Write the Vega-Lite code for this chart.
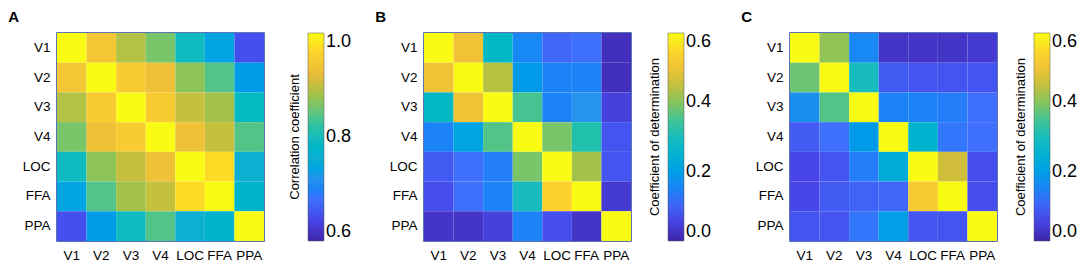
{
"$schema": "https://vega.github.io/schema/vega-lite/v6.json",
"padding": {"left": 7, "top": 9, "right": 0, "bottom": 0},
"config": {
  "font": "Liberation Sans",
  "view": {"stroke": "#2b479e", "strokeWidth": 1.5},
  "axis": {"domain": false, "ticks": false, "labelFontSize": 13.5, "labelColor": "#000000", "labelPadding": 7, "labelAngle": 0, "title": null},
  "legend": {"gradientLength": 208, "gradientThickness": 16, "labelFontSize": 18, "labelColor": "#000000", "labelOffset": 5, "titleFontSize": 13, "titleFontWeight": "normal", "titleColor": "#000000", "titleOrient": "left", "titleAngle": 270, "titleAnchor": "middle", "titlePadding": 5, "offset": 18, "gradientStrokeWidth": 0.5, "gradientStrokeColor": "#555555"},
  "title": {"anchor": "start", "frame": "bounds", "fontSize": 15, "fontWeight": "bold", "color": "#000000", "offset": 8, "dx": -14}
},
"datasets": {
"A": [
{"r":"V1","c":"V1","v":1.00},{"r":"V1","c":"V2","v":0.94},{"r":"V1","c":"V3","v":0.89},{"r":"V1","c":"V4","v":0.86},{"r":"V1","c":"LOC","v":0.795},{"r":"V1","c":"FFA","v":0.74},{"r":"V1","c":"PPA","v":0.65},
{"r":"V2","c":"V1","v":0.94},{"r":"V2","c":"V2","v":1.00},{"r":"V2","c":"V3","v":0.95},{"r":"V2","c":"V4","v":0.93},{"r":"V2","c":"LOC","v":0.87},{"r":"V2","c":"FFA","v":0.84},{"r":"V2","c":"PPA","v":0.73},
{"r":"V3","c":"V1","v":0.89},{"r":"V3","c":"V2","v":0.95},{"r":"V3","c":"V3","v":1.00},{"r":"V3","c":"V4","v":0.95},{"r":"V3","c":"LOC","v":0.90},{"r":"V3","c":"FFA","v":0.88},{"r":"V3","c":"PPA","v":0.79},
{"r":"V4","c":"V1","v":0.86},{"r":"V4","c":"V2","v":0.93},{"r":"V4","c":"V3","v":0.95},{"r":"V4","c":"V4","v":1.00},{"r":"V4","c":"LOC","v":0.93},{"r":"V4","c":"FFA","v":0.90},{"r":"V4","c":"PPA","v":0.84},
{"r":"LOC","c":"V1","v":0.795},{"r":"LOC","c":"V2","v":0.87},{"r":"LOC","c":"V3","v":0.90},{"r":"LOC","c":"V4","v":0.93},{"r":"LOC","c":"LOC","v":1.00},{"r":"LOC","c":"FFA","v":0.97},{"r":"LOC","c":"PPA","v":0.76},
{"r":"FFA","c":"V1","v":0.74},{"r":"FFA","c":"V2","v":0.84},{"r":"FFA","c":"V3","v":0.88},{"r":"FFA","c":"V4","v":0.90},{"r":"FFA","c":"LOC","v":0.97},{"r":"FFA","c":"FFA","v":1.00},{"r":"FFA","c":"PPA","v":0.77},
{"r":"PPA","c":"V1","v":0.65},{"r":"PPA","c":"V2","v":0.73},{"r":"PPA","c":"V3","v":0.795},{"r":"PPA","c":"V4","v":0.84},{"r":"PPA","c":"LOC","v":0.76},{"r":"PPA","c":"FFA","v":0.77},{"r":"PPA","c":"PPA","v":1.00}
],
"B": [
{"r":"V1","c":"V1","v":0.60},{"r":"V1","c":"V2","v":0.50},{"r":"V1","c":"V3","v":0.28},{"r":"V1","c":"V4","v":0.16},{"r":"V1","c":"LOC","v":0.11},{"r":"V1","c":"FFA","v":0.12},{"r":"V1","c":"PPA","v":0.02},
{"r":"V2","c":"V1","v":0.50},{"r":"V2","c":"V2","v":0.60},{"r":"V2","c":"V3","v":0.44},{"r":"V2","c":"V4","v":0.19},{"r":"V2","c":"LOC","v":0.15},{"r":"V2","c":"FFA","v":0.15},{"r":"V2","c":"PPA","v":0.02},
{"r":"V3","c":"V1","v":0.28},{"r":"V3","c":"V2","v":0.50},{"r":"V3","c":"V3","v":0.60},{"r":"V3","c":"V4","v":0.35},{"r":"V3","c":"LOC","v":0.15},{"r":"V3","c":"FFA","v":0.18},{"r":"V3","c":"PPA","v":0.05},
{"r":"V4","c":"V1","v":0.15},{"r":"V4","c":"V2","v":0.21},{"r":"V4","c":"V3","v":0.36},{"r":"V4","c":"V4","v":0.60},{"r":"V4","c":"LOC","v":0.39},{"r":"V4","c":"FFA","v":0.32},{"r":"V4","c":"PPA","v":0.08},
{"r":"LOC","c":"V1","v":0.09},{"r":"LOC","c":"V2","v":0.12},{"r":"LOC","c":"V3","v":0.14},{"r":"LOC","c":"V4","v":0.39},{"r":"LOC","c":"LOC","v":0.60},{"r":"LOC","c":"FFA","v":0.42},{"r":"LOC","c":"PPA","v":0.08},
{"r":"FFA","c":"V1","v":0.07},{"r":"FFA","c":"V2","v":0.12},{"r":"FFA","c":"V3","v":0.15},{"r":"FFA","c":"V4","v":0.30},{"r":"FFA","c":"LOC","v":0.54},{"r":"FFA","c":"FFA","v":0.60},{"r":"FFA","c":"PPA","v":0.04},
{"r":"PPA","c":"V1","v":0.03},{"r":"PPA","c":"V2","v":0.03},{"r":"PPA","c":"V3","v":0.05},{"r":"PPA","c":"V4","v":0.15},{"r":"PPA","c":"LOC","v":0.07},{"r":"PPA","c":"FFA","v":0.03},{"r":"PPA","c":"PPA","v":0.60}
],
"C": [
{"r":"V1","c":"V1","v":0.60},{"r":"V1","c":"V2","v":0.41},{"r":"V1","c":"V3","v":0.16},{"r":"V1","c":"V4","v":0.03},{"r":"V1","c":"LOC","v":0.03},{"r":"V1","c":"FFA","v":0.03},{"r":"V1","c":"PPA","v":0.04},
{"r":"V2","c":"V1","v":0.38},{"r":"V2","c":"V2","v":0.60},{"r":"V2","c":"V3","v":0.30},{"r":"V2","c":"V4","v":0.09},{"r":"V2","c":"LOC","v":0.08},{"r":"V2","c":"FFA","v":0.08},{"r":"V2","c":"PPA","v":0.08},
{"r":"V3","c":"V1","v":0.17},{"r":"V3","c":"V2","v":0.36},{"r":"V3","c":"V3","v":0.60},{"r":"V3","c":"V4","v":0.15},{"r":"V3","c":"LOC","v":0.15},{"r":"V3","c":"FFA","v":0.14},{"r":"V3","c":"PPA","v":0.12},
{"r":"V4","c":"V1","v":0.09},{"r":"V4","c":"V2","v":0.12},{"r":"V4","c":"V3","v":0.19},{"r":"V4","c":"V4","v":0.60},{"r":"V4","c":"LOC","v":0.25},{"r":"V4","c":"FFA","v":0.13},{"r":"V4","c":"PPA","v":0.12},
{"r":"LOC","c":"V1","v":0.06},{"r":"LOC","c":"V2","v":0.08},{"r":"LOC","c":"V3","v":0.14},{"r":"LOC","c":"V4","v":0.23},{"r":"LOC","c":"LOC","v":0.60},{"r":"LOC","c":"FFA","v":0.46},{"r":"LOC","c":"PPA","v":0.07},
{"r":"FFA","c":"V1","v":0.06},{"r":"FFA","c":"V2","v":0.09},{"r":"FFA","c":"V3","v":0.10},{"r":"FFA","c":"V4","v":0.11},{"r":"FFA","c":"LOC","v":0.52},{"r":"FFA","c":"FFA","v":0.60},{"r":"FFA","c":"PPA","v":0.07},
{"r":"PPA","c":"V1","v":0.08},{"r":"PPA","c":"V2","v":0.08},{"r":"PPA","c":"V3","v":0.13},{"r":"PPA","c":"V4","v":0.20},{"r":"PPA","c":"LOC","v":0.08},{"r":"PPA","c":"FFA","v":0.08},{"r":"PPA","c":"PPA","v":0.60}
]
},
"resolve": {"scale": {"color": "independent"}},
"spacing": 21,
"hconcat": [
{
 "data": {"name": "A"}, "title": {"text": "A"}, "width": 207, "height": 208,
 "mark": {"type": "rect"},
 "encoding": {
  "x": {"field": "c", "type": "nominal", "sort": ["V1","V2","V3","V4","LOC","FFA","PPA"]},
  "y": {"field": "r", "type": "nominal", "sort": ["V1","V2","V3","V4","LOC","FFA","PPA"]},
  "color": {"field": "v", "type": "quantitative",
   "scale": {"domain": [0.6, 1.0], "range": ["#3e26a8","#4745e8","#3f6ffd","#2494ec","#0eb0d2","#18bcbc","#52c488","#a2c24c","#e9bb3a","#fdd22d","#f9fb15"]},
   "legend": {"title": "Correlation coefficient", "values": [0.6, 0.8, 1.0], "format": ".1f", "offset": 25}}
 }
},
{
 "resolve": {"scale": {"color": "independent"}},
 "spacing": 27,
 "hconcat": [
 {
  "data": {"name": "B"}, "title": {"text": "B"}, "width": 207, "height": 208,
  "mark": {"type": "rect"},
  "encoding": {
   "x": {"field": "c", "type": "nominal", "sort": ["V1","V2","V3","V4","LOC","FFA","PPA"]},
   "y": {"field": "r", "type": "nominal", "sort": ["V1","V2","V3","V4","LOC","FFA","PPA"]},
   "color": {"field": "v", "type": "quantitative",
    "scale": {"domain": [0.0, 0.6], "range": ["#3e26a8","#4745e8","#3f6ffd","#2494ec","#0eb0d2","#18bcbc","#52c488","#a2c24c","#e9bb3a","#fdd22d","#f9fb15"]},
    "legend": {"title": "Coefficient of determination", "values": [0.0, 0.2, 0.4, 0.6], "format": ".1f"}}
  }
 },
 {
  "data": {"name": "C"}, "title": {"text": "C"}, "width": 207, "height": 208,
  "mark": {"type": "rect"},
  "encoding": {
   "x": {"field": "c", "type": "nominal", "sort": ["V1","V2","V3","V4","LOC","FFA","PPA"]},
   "y": {"field": "r", "type": "nominal", "sort": ["V1","V2","V3","V4","LOC","FFA","PPA"]},
   "color": {"field": "v", "type": "quantitative",
    "scale": {"domain": [0.0, 0.6], "range": ["#3e26a8","#4745e8","#3f6ffd","#2494ec","#0eb0d2","#18bcbc","#52c488","#a2c24c","#e9bb3a","#fdd22d","#f9fb15"]},
    "legend": {"title": "Coefficient of determination", "values": [0.0, 0.2, 0.4, 0.6], "format": ".1f"}}
  }
 }
 ]
}
]
}
